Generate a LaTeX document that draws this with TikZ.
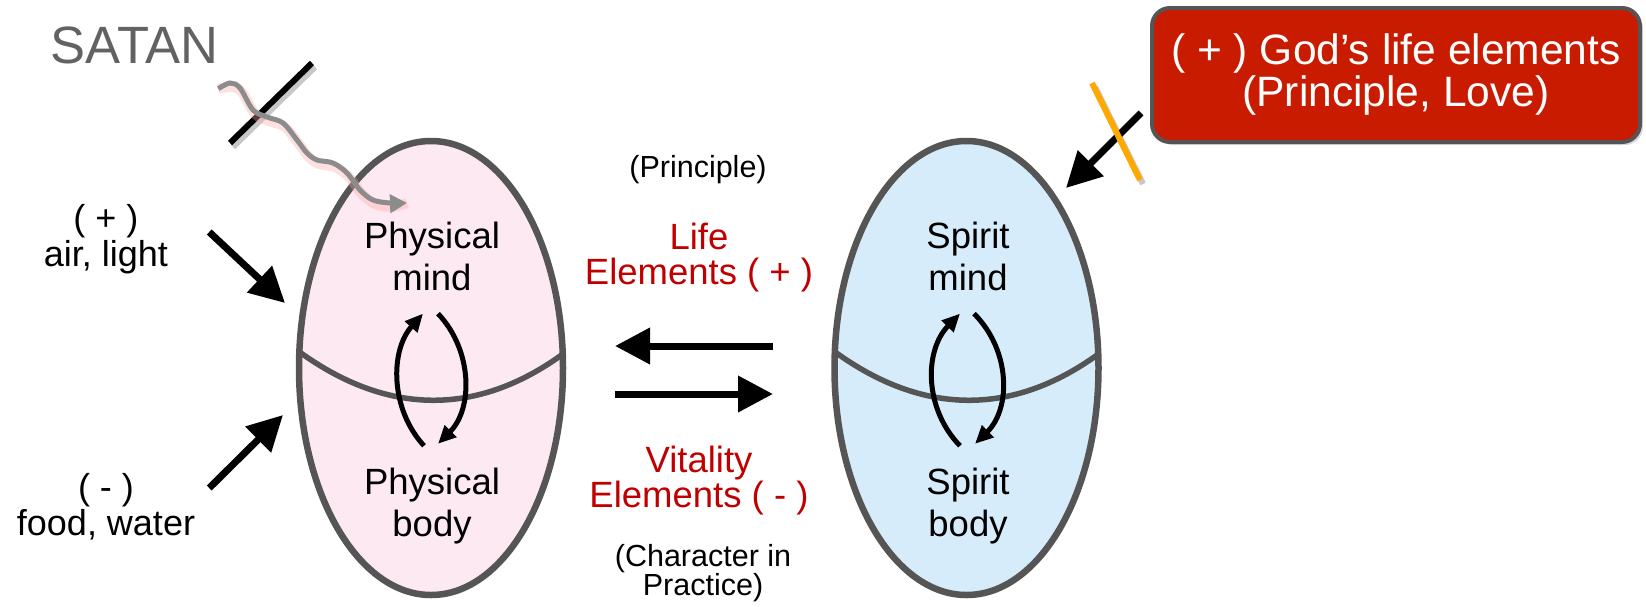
\documentclass[tikz,border=0pt]{standalone}
\usepackage{fontspec}
\setmainfont{Liberation Sans}
\usepackage{xcolor}
\usetikzlibrary{arrows.meta,positioning,shapes.geometric,shadows}
\definecolor{cEdge}{HTML}{555555}
\definecolor{cPink}{HTML}{FDE9F1}
\definecolor{cSky}{HTML}{D6ECFA}
\definecolor{cRed}{HTML}{C00000}
\definecolor{cBox}{HTML}{C81B00}
\definecolor{cOrange}{HTML}{FFA800}
\definecolor{cGrey}{HTML}{8C8C8C}
\definecolor{cSatan}{HTML}{626262}
\newcommand\wavypts{([shift={(0,25)}]satan.south east) (230,83) (240,88) (253,110) (267,117)
  (283,123) (297,140) (307,153) (317,160) (333,163) (347,173) (360,190) (373,200) (390,203) (satIn)}

\begin{document}
\begin{tikzpicture}[
  x=1pt,y=-1pt,
  egg/.style={ellipse,draw=cEdge,line width=6.5pt,minimum width=264pt,minimum height=454pt,
              inner sep=0pt,outer sep=0pt,
              drop shadow={shadow xshift=2pt,shadow yshift=-3pt,opacity=.25}},
  lbl/.style={align=center,inner sep=0pt,font=\fontsize{36.5}{42}\selectfont},
  lblr/.style={align=center,inner sep=0pt,text=cRed,font=\fontsize{36.5}{35}\selectfont},
  side/.style={align=center,inner sep=0pt,font=\fontsize{36}{36}\selectfont},
  note/.style={align=center,inner sep=0pt,font=\fontsize{30.5}{28}\selectfont},
  big/.style={-{Triangle[length=35pt,width=35pt]},line width=7pt},
  cyc/.style={-{Triangle[length=18pt,width=16pt]},line width=5pt},
  wav/.style={-{Triangle[length=17pt,width=18pt]},line width=5pt,draw=cGrey},
  glow/.style={line width=10pt,draw=red!35,opacity=.35},
  sep/.style={draw=cEdge,line width=5.5pt},
  bar/.style={line width=6pt},
  shd/.style={line width=6pt,draw=black,opacity=.22}
]
\useasboundingbox (0,0) rectangle (1646,606);

% ---- ovos
\node[egg,fill=cPink] (phys) at (431,368) {};
\node[egg,fill=cSky]  (spir) at (966.5,368) {};
\draw[sep] (phys.173.5) .. controls +(87,63) and +(-87,63) .. (phys.6.5);
\draw[sep] (spir.173.5) .. controls +(87,63) and +(-87,63) .. (spir.6.5);

\node[lbl] (pmind) at (432,256) {Physical\\mind};
\node[lbl] (pbody) at (432,506) {Physical\\body};
\node[lbl] (smind) at (968,256) {Spirit\\mind};
\node[lbl] (sbody) at (968,506) {Spirit\\body};

\draw[cyc] ([shift={(-8,-22)}]pbody.north) .. controls +(-34,-37) and +(-33,37) .. ([shift={(-9,23)}]pmind.south);
\draw[cyc] ([shift={(6,23)}]pmind.south) .. controls +(35,37) and +(35,-35) .. ([shift={(6,-24)}]pbody.north);
\draw[cyc] ([shift={(-8,-22)}]sbody.north) .. controls +(-36,-37) and +(-36,37) .. ([shift={(-8,23)}]smind.south);
\draw[cyc] ([shift={(6,23)}]smind.south) .. controls +(37,37) and +(36,-35) .. ([shift={(7,-24)}]sbody.north);

% ---- meio
\node[note] (prin) at (698,170) {(Principle)};
\node[lblr] (life) at (699,258) {Life\\Elements ( + )};
\node[lblr] (vita) at (699,481) {Vitality\\Elements ( - )};
\node[note] (prac) at (703,573) {(Character in\\Practice)};
\draw[big,shorten <=61.5pt,shorten >=52pt] ([yshift=22pt]spir.west) -- ([yshift=22pt]phys.east);
\draw[big,shorten <=52pt,shorten >=61.5pt] ([yshift=-26pt]phys.east) -- ([yshift=-26pt]spir.west);

% ---- esquerda
\node[side] (air)  at (106,239) {( + )\\air, light};
\node[side] (food) at (106,507) {( - )\\food, water};
\coordinate (airIn)  at (285,303);
\coordinate (foodIn) at (283,415);
\draw[big] ([shift={(41,-7)}]air.east) -- (airIn);
\draw[big] ([shift={(14,-19)}]food.east) -- (foodIn);

% ---- satan
\node[font=\fontsize{52.5}{58}\selectfont,text=cSatan,inner sep=0pt,anchor=base] (satan) at (134.5,63) {SATAN};
\coordinate (satIn) at (407,203);
\draw[shd] (233,147) -- (315,67);
\draw[bar] (230,143) -- (312,63);
\draw[glow,shift={(2,4)}] plot[smooth,tension=.55] coordinates {\wavypts};
\draw[wav] plot[smooth,tension=.55] coordinates {\wavypts};

% ---- caixa
\node[draw=cEdge,fill=cBox,line width=4pt,rounded corners=18pt,minimum width=488pt,minimum height=134pt,
      text=white,align=center,font=\fontsize{42.5}{42}\selectfont,
      drop shadow={shadow xshift=3pt,shadow yshift=-3pt,opacity=.3}] (god) at (1396,75)
      {( + ) God’s life elements\\(Principle, Love)};
\coordinate (godIn) at (1066,188);
\draw[big] ([shift={(-9,38)}]god.west) -- (godIn);
\draw[shd] (1095,87) -- (1143,184);
\draw[bar,cOrange] (1092,83) -- (1140,180);
\end{tikzpicture}
\end{document}
